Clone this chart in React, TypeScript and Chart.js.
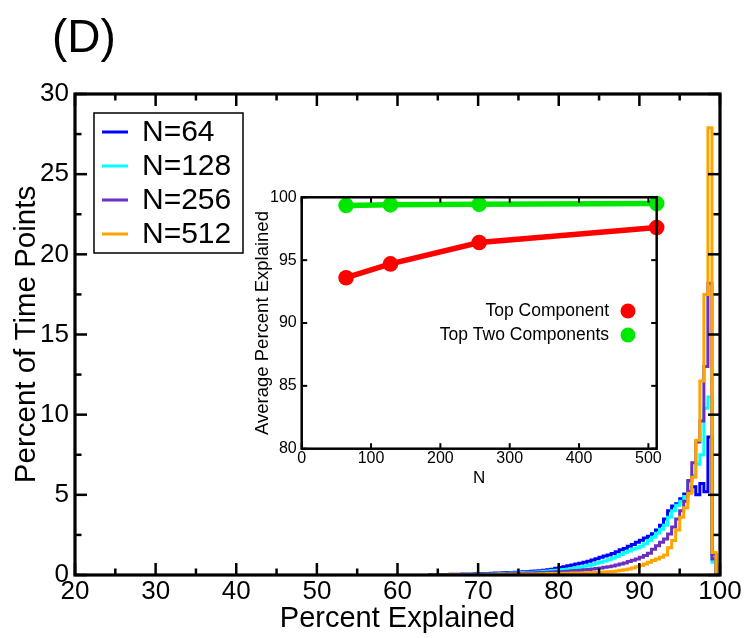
import React, { useEffect, useRef } from "react";
import { Chart, registerables } from "chart.js";

Chart.register(...registerables);

// ---------------- Data ----------------
// Left edges of the 0.5-wide histogram bins (Percent Explained)
const BIN_EDGES = [
  64, 64.5, 65, 65.5, 66, 66.5, 67, 67.5, 68, 68.5, 69, 69.5,
  70, 70.5, 71, 71.5, 72, 72.5, 73, 73.5, 74, 74.5, 75, 75.5,
  76, 76.5, 77, 77.5, 78, 78.5, 79, 79.5, 80, 80.5, 81, 81.5,
  82, 82.5, 83, 83.5, 84, 84.5, 85, 85.5, 86, 86.5, 87, 87.5,
  88, 88.5, 89, 89.5, 90, 90.5, 91, 91.5, 92, 92.5, 93, 93.5,
  94, 94.5, 95, 95.5, 96, 96.5, 97, 97.5, 98, 98.5, 99, 99.5,
];
const BIN_END = 100;

const N64 = [
  0.0, 0.01, 0.01, 0.02, 0.03, 0.03, 0.04, 0.05, 0.05, 0.06, 0.07, 0.07,
  0.08, 0.09, 0.1, 0.1, 0.11, 0.12, 0.13, 0.14, 0.15, 0.16, 0.17, 0.18,
  0.2, 0.21, 0.23, 0.25, 0.27, 0.29, 0.32, 0.36, 0.42, 0.47, 0.52, 0.57,
  0.62, 0.68, 0.74, 0.8, 0.86, 0.93, 1.02, 1.1, 1.18, 1.25, 1.34, 1.45,
  1.58, 1.66, 1.79, 1.9, 2.04, 2.17, 2.3, 2.42, 2.58, 2.8, 3.1, 3.5,
  4.0, 4.3, 4.45, 4.75, 5.05, 5.2, 5.5, 5.0, 5.7, 5.2, 8.6, 1.3,
];
const N128 = [
  0.0, 0.0, 0.01, 0.01, 0.01, 0.02, 0.02, 0.02, 0.03, 0.03, 0.04, 0.04,
  0.05, 0.05, 0.06, 0.06, 0.07, 0.08, 0.09, 0.1, 0.11, 0.12, 0.13, 0.14,
  0.15, 0.16, 0.17, 0.19, 0.21, 0.23, 0.25, 0.28, 0.3, 0.32, 0.34, 0.37,
  0.41, 0.45, 0.49, 0.54, 0.6, 0.66, 0.73, 0.8, 0.87, 0.95, 1.05, 1.16,
  1.28, 1.4, 1.5, 1.6, 1.68, 1.8, 1.95, 2.15, 2.35, 2.6, 2.85, 3.1,
  3.6, 4.0, 4.35, 4.6, 4.9, 5.8, 6.2, 6.9, 7.5, 10.4, 11.1, 0.8,
];
const N256 = [
  0.0, 0.0, 0.0, 0.01, 0.01, 0.01, 0.01, 0.02, 0.02, 0.02, 0.03, 0.03,
  0.03, 0.04, 0.04, 0.05, 0.05, 0.06, 0.06, 0.07, 0.08, 0.08, 0.09, 0.1,
  0.11, 0.12, 0.13, 0.14, 0.15, 0.16, 0.17, 0.19, 0.2, 0.21, 0.22, 0.24,
  0.26, 0.28, 0.3, 0.32, 0.34, 0.37, 0.4, 0.44, 0.48, 0.52, 0.56, 0.62,
  0.68, 0.75, 0.84, 0.92, 1.0, 1.1, 1.22, 1.36, 1.6, 1.82, 2.05, 2.25,
  2.56, 3.0, 3.5, 4.0, 4.6, 5.9, 7.0, 8.3, 9.6, 13.0, 18.2, 1.0,
];
const N512 = [
  0.0, 0.0, 0.0, 0.0, 0.0, 0.0, 0.01, 0.01, 0.01, 0.01, 0.01, 0.02,
  0.02, 0.02, 0.02, 0.03, 0.03, 0.03, 0.04, 0.04, 0.04, 0.05, 0.05, 0.05,
  0.06, 0.06, 0.07, 0.07, 0.08, 0.08, 0.09, 0.09, 0.1, 0.1, 0.11, 0.11,
  0.12, 0.12, 0.13, 0.13, 0.14, 0.15, 0.16, 0.17, 0.18, 0.2, 0.22, 0.25,
  0.29, 0.33, 0.38, 0.44, 0.52, 0.6, 0.68, 0.8, 0.9, 1.0, 1.1, 1.25,
  1.7, 2.15, 2.8, 3.6, 4.2, 5.1, 6.1, 8.4, 12.1, 17.5, 27.9, 1.4,
];

const SERIES_LABELS = ["N=64", "N=128", "N=256", "N=512"];
const SERIES_COLORS = ["#0000ff", "#00ffff", "#6a2fc0", "#ffa500"];

const X_TICKS = [20, 30, 40, 50, 60, 70, 80, 90, 100];
const X_MINOR = [25, 35, 45, 55, 65, 75, 85, 95];
const Y_TICKS = [0, 5, 10, 15, 20, 25, 30];
const Y_MINOR = [2.5, 7.5, 12.5, 17.5, 22.5, 27.5];

// Inset
const INSET_N = [64, 128, 256, 512];
const INSET_TOP = [93.6, 94.7, 96.4, 97.6];
const INSET_TOP_TWO = [99.35, 99.4, 99.45, 99.5];
const INSET_LABELS = ["Top Component", "Top Two Components"];
const INSET_COLORS = ["#ff0000", "#00e800"];
const INSET_X_TICKS = [0, 100, 200, 300, 400, 500];
const INSET_Y_TICKS = [80, 85, 90, 95, 100];

const FONT = "'Liberation Sans', Arial, Helvetica, sans-serif";

// Inset canvas placement (absolute page coords)
const INSET_LEFT = 240;
const INSET_TOP_PX = 180;
const INSET_W = 440;
const INSET_H = 320;

export default function App() {
  const mainRef = useRef<HTMLCanvasElement | null>(null);
  const insetRef = useRef<HTMLCanvasElement | null>(null);

  useEffect(() => {
    document.body.style.margin = "0";
    const seriesValues = [N64, N128, N256, N512];

    const datasets = seriesValues.map((vals, i) => {
      const pts = BIN_EDGES.map((e, j) => ({ x: e, y: vals[j] }));
      pts.push({ x: BIN_END, y: 0 });
      return {
        label: SERIES_LABELS[i],
        data: pts,
        borderColor: SERIES_COLORS[i],
        backgroundColor: SERIES_COLORS[i],
        borderWidth: 3,
        stepped: "after" as const,
        pointRadius: 0,
        fill: false,
        order: 4 - i,
      };
    });

    const framePlugin = {
      id: "frame",
      afterDatasetsDraw(chart: any) {
        const { ctx, chartArea: a, scales } = chart;
        const xs = scales.x;
        const ys = scales.y;
        ctx.save();
        ctx.strokeStyle = "#000";
        ctx.lineWidth = 2.5;
        ctx.lineCap = "butt";
        const tick = (x1: number, y1: number, x2: number, y2: number) => {
          ctx.beginPath();
          ctx.moveTo(x1, y1);
          ctx.lineTo(x2, y2);
          ctx.stroke();
        };
        const maj = 12;
        const min = 6.5;
        X_TICKS.forEach((v) => {
          const p = xs.getPixelForValue(v);
          tick(p, a.bottom, p, a.bottom - maj);
          tick(p, a.top, p, a.top + maj);
        });
        X_MINOR.forEach((v) => {
          const p = xs.getPixelForValue(v);
          tick(p, a.bottom, p, a.bottom - min);
          tick(p, a.top, p, a.top + min);
        });
        Y_TICKS.forEach((v) => {
          const p = ys.getPixelForValue(v);
          tick(a.left, p, a.left + maj, p);
          tick(a.right, p, a.right - maj, p);
        });
        Y_MINOR.forEach((v) => {
          const p = ys.getPixelForValue(v);
          tick(a.left, p, a.left + min, p);
          tick(a.right, p, a.right - min, p);
        });
        ctx.lineWidth = 3.2;
        ctx.strokeRect(a.left, a.top, a.right - a.left, a.bottom - a.top);

        // Legend box
        const lx = 94, ly = 113, lw = 149, lh = 140;
        ctx.fillStyle = "#fff";
        ctx.fillRect(lx, ly, lw, lh);
        ctx.lineWidth = 1.5;
        ctx.strokeRect(lx, ly, lw, lh);
        const rows = [132, 166, 200, 234];
        ctx.font = `30px ${FONT}`;
        ctx.textBaseline = "middle";
        ctx.textAlign = "left";
        SERIES_LABELS.forEach((lab, i) => {
          ctx.strokeStyle = SERIES_COLORS[i];
          ctx.lineWidth = 3;
          tick(102, rows[i], 128, rows[i]);
          ctx.fillStyle = "#000";
          ctx.fillText(lab, 142, rows[i] + 1);
        });

        // Panel label
        ctx.font = `46px ${FONT}`;
        ctx.fillStyle = "#000";
        ctx.textBaseline = "middle";
        ctx.fillText("(D)", 52, 39);
        ctx.restore();
      },
    };

    const main = new Chart(mainRef.current as HTMLCanvasElement, {
      type: "line",
      data: { datasets: datasets as any },
      options: {
        animation: false,
        responsive: false,
        maintainAspectRatio: false,
        devicePixelRatio: 1,
        layout: { padding: { left: 0, right: 24, top: 94, bottom: 0 } },
        plugins: { legend: { display: false }, tooltip: { enabled: false } },
        scales: {
          x: {
            type: "linear",
            min: 20,
            max: 100,
            afterFit: (s: any) => {
              s.height = 63;
            },
            afterBuildTicks: (s: any) => {
              s.ticks = X_TICKS.map((v) => ({ value: v }));
            },
            grid: { display: false, drawTicks: false },
            border: { display: false },
            ticks: {
              font: { family: FONT, size: 26 },
              color: "#000",
              padding: 1,
              maxRotation: 0,
              autoSkip: false,
            },
            title: {
              display: true,
              text: "Percent Explained",
              font: { family: FONT, size: 29 },
              color: "#000",
              padding: { top: 0, bottom: 2 },
            },
          },
          y: {
            type: "linear",
            min: 0,
            max: 30,
            afterFit: (s: any) => {
              s.width = 75;
            },
            afterBuildTicks: (s: any) => {
              s.ticks = Y_TICKS.map((v) => ({ value: v }));
            },
            grid: { display: false, drawTicks: false },
            border: { display: false },
            ticks: {
              font: { family: FONT, size: 26 },
              color: "#000",
              padding: 6,
              autoSkip: false,
            },
            title: {
              display: true,
              text: "Percent of Time Points",
              font: { family: FONT, size: 29.5 },
              color: "#000",
              padding: { top: 9, bottom: 0 },
            },
          },
        },
      },
      plugins: [framePlugin],
    });

    const insetPlugin = {
      id: "insetFrame",
      beforeDatasetsDraw(chart: any) {
        const { ctx, chartArea: a } = chart;
        ctx.save();
        ctx.fillStyle = "#fff";
        ctx.fillRect(a.left, a.top, a.right - a.left, a.bottom - a.top);
        ctx.restore();
      },
      afterDatasetsDraw(chart: any) {
        const { ctx, chartArea: a, scales } = chart;
        const xs = scales.x;
        const ys = scales.y;
        ctx.save();
        ctx.strokeStyle = "#000";
        ctx.lineWidth = 2;
        const tick = (x1: number, y1: number, x2: number, y2: number) => {
          ctx.beginPath();
          ctx.moveTo(x1, y1);
          ctx.lineTo(x2, y2);
          ctx.stroke();
        };
        const len = 5.5;
        INSET_X_TICKS.forEach((v) => {
          const p = xs.getPixelForValue(v);
          tick(p, a.bottom, p, a.bottom - len);
          tick(p, a.top, p, a.top + len);
        });
        INSET_Y_TICKS.forEach((v) => {
          const p = ys.getPixelForValue(v);
          tick(a.left, p, a.left + len, p);
          tick(a.right, p, a.right - len, p);
        });
        ctx.lineWidth = 2.5;
        ctx.strokeRect(a.left, a.top, a.right - a.left, a.bottom - a.top);
        ctx.restore();
      },
      afterDraw(chart: any) {
        const { ctx } = chart;
        ctx.save();
        ctx.font = `17.5px ${FONT}`;
        ctx.textBaseline = "middle";
        ctx.textAlign = "right";
        const rows = [131, 155];
        INSET_LABELS.forEach((lab, i) => {
          ctx.fillStyle = "#000";
          ctx.fillText(lab, 369, rows[i]);
          ctx.fillStyle = INSET_COLORS[i];
          ctx.beginPath();
          ctx.arc(388, rows[i], 7.5, 0, Math.PI * 2);
          ctx.fill();
        });
        ctx.restore();
      },
    };

    const insetSeries = [INSET_TOP, INSET_TOP_TWO];
    const inset = new Chart(insetRef.current as HTMLCanvasElement, {
      type: "line",
      data: {
        datasets: insetSeries.map((vals, i) => ({
          label: INSET_LABELS[i],
          data: INSET_N.map((n, j) => ({ x: n, y: vals[j] })),
          borderColor: INSET_COLORS[i],
          backgroundColor: INSET_COLORS[i],
          pointBackgroundColor: INSET_COLORS[i],
          pointBorderWidth: 0,
          pointRadius: 7.8,
          borderWidth: 5.5,
          clip: false as any,
        })) as any,
      },
      options: {
        animation: false,
        responsive: false,
        maintainAspectRatio: false,
        devicePixelRatio: 1,
        layout: {
          padding: { left: 0, right: INSET_W - 416.7, top: 17.3, bottom: 0 },
        },
        plugins: { legend: { display: false }, tooltip: { enabled: false } },
        scales: {
          x: {
            type: "linear",
            min: 0,
            max: 512,
            afterFit: (s: any) => {
              s.height = INSET_H - 268.7;
            },
            afterBuildTicks: (s: any) => {
              s.ticks = INSET_X_TICKS.map((v) => ({ value: v }));
            },
            grid: { display: false, drawTicks: false },
            border: { display: false },
            ticks: {
              font: { family: FONT, size: 16 },
              color: "#000",
              padding: 0,
              maxRotation: 0,
              autoSkip: false,
            },
            title: {
              display: true,
              text: "N",
              font: { family: FONT, size: 17 },
              color: "#000",
              padding: { top: 0, bottom: 11 },
            },
          },
          y: {
            type: "linear",
            min: 80,
            max: 100,
            afterFit: (s: any) => {
              s.width = 61.7;
            },
            afterBuildTicks: (s: any) => {
              s.ticks = INSET_Y_TICKS.map((v) => ({ value: v }));
            },
            grid: { display: false, drawTicks: false },
            border: { display: false },
            ticks: {
              font: { family: FONT, size: 16 },
              color: "#000",
              padding: 5,
              autoSkip: false,
            },
            title: {
              display: true,
              text: "Average Percent Explained",
              font: { family: FONT, size: 18.5 },
              color: "#000",
              padding: { top: 12, bottom: 0 },
            },
          },
        },
      },
      plugins: [insetPlugin],
    });

    return () => {
      main.destroy();
      inset.destroy();
    };
  }, []);

  return (
    <div
      style={{
        position: "fixed",
        left: 0,
        top: 0,
        width: 744,
        height: 638,
        background: "#fff",
      }}
    >
      <canvas
        ref={mainRef}
        width={744}
        height={638}
        style={{ position: "absolute", left: 0, top: 0, width: 744, height: 638 }}
      />
      <canvas
        ref={insetRef}
        width={INSET_W}
        height={INSET_H}
        style={{
          position: "absolute",
          left: INSET_LEFT,
          top: INSET_TOP_PX,
          width: INSET_W,
          height: INSET_H,
        }}
      />
    </div>
  );
}
